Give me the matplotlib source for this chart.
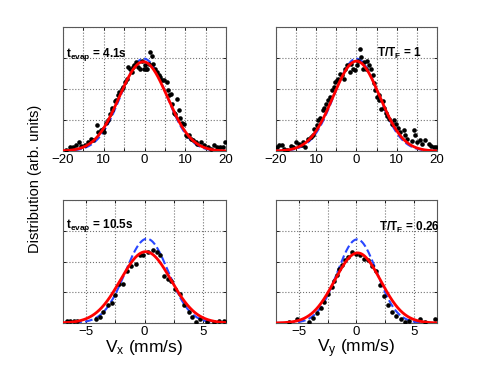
import numpy as np
import matplotlib.pyplot as plt

plt.rcParams['font.family'] = ['Liberation Sans', 'DejaVu Sans']
plt.rcParams['mathtext.fontset'] = 'custom'
plt.rcParams['mathtext.rm'] = 'Liberation Sans'
plt.rcParams['mathtext.bf'] = 'Liberation Sans:bold'
plt.rcParams['mathtext.it'] = 'Liberation Sans:italic'

# measured points (velocity in mm/s, normalised distribution)
vx1 = [-19.3, -18.4, -17.6, -16.8, -16.1, -15.5, -14.7, -13.9, -13.1, -12.6, -11.7, -11.4, -10.8, -10.3,
       -10.0, -9.5, -8.9, -8.5, -8.1, -7.9, -7.3, -6.9, -6.4, -6.2, -5.6, -5.2, -4.8, -4.4, -4.0, -3.6,
       -3.1, -2.9, -2.6, -2.1, -1.5, -1.1, -0.7, -0.2, 0.2, 0.4, 0.7, 1.0, 1.4, 1.8, 2.2, 2.6, 3.1, 3.5,
       3.9, 4.3, 4.7, 5.4, 5.7, 6.0, 6.4, 6.8, 7.2, 7.6, 8.0, 8.4, 8.8, 9.3, 9.7, 10.1, 10.5, 10.9, 11.5,
       12.0, 12.6, 13.0, 13.8, 14.6, 15.5, 16.3, 17.1, 17.8, 18.6, 19.2, 19.8]
nx1 = [0.005, 0.03, 0.03, 0.05, 0.07, 0.04, 0.05, 0.07, 0.10, 0.09, 0.21, 0.15, 0.17, 0.18,
       0.15, 0.23, 0.25, 0.30, 0.33, 0.35, 0.40, 0.41, 0.45, 0.48, 0.50, 0.52, 0.56, 0.58, 0.68, 0.66,
       0.64, 0.68, 0.69, 0.72, 0.68, 0.66, 0.73, 0.66, 0.69, 0.66, 0.66, 0.70, 0.80, 0.77, 0.70, 0.66, 0.64, 0.61,
       0.60, 0.57, 0.57, 0.56, 0.49, 0.45, 0.46, 0.38, 0.31, 0.30, 0.42, 0.33, 0.27, 0.23, 0.22, 0.13, 0.12, 0.13, 0.10,
       0.09, 0.07, 0.06, 0.07, 0.05, 0.03, 0.02, 0.05, 0.03, 0.03, 0.03, 0.07]

vy1 = [-19.8, -19.2, -18.6, -18.0, -17.3, -16.3, -15.7, -14.9, -14.2, -13.6, -13.2, -12.8, -12.0, -11.4,
       -10.9, -10.5, -9.9, -9.5, -9.0, -8.4, -8.0, -7.6, -7.0, -6.6, -6.1, -5.7, -5.3, -4.9, -4.5, -4.1,
       -3.7, -3.2, -2.8, -2.4, -1.7, -1.4, -0.9, -0.3, 0.1, 0.5, 0.9, 1.2, 1.6, 1.9, 2.4, 2.7, 3.2, 3.6,
       4.1, 4.4, 4.6, 5.1, 5.5, 5.7, 6.1, 6.6, 6.9, 7.4, 7.7, 8.0, 8.8, 9.2, 9.9, 10.2, 10.9, 11.7, 12.1,
       12.5, 13.8, 14.2, 14.6, 15.0, 15.7, 16.3, 17.1, 17.9, 18.5, 19.2, 19.8]
ny1 = [0.03, 0.05, 0.05, 0.02, 0.01, 0.04, 0.03, 0.07, 0.06, 0.05, 0.07, 0.03, 0.10, 0.11,
       0.13, 0.18, 0.21, 0.25, 0.27, 0.33, 0.35, 0.38, 0.41, 0.44, 0.49, 0.52, 0.56, 0.57, 0.58, 0.62,
       0.61, 0.58, 0.66, 0.69, 0.64, 0.70, 0.66, 0.65, 0.69, 0.73, 0.82, 0.76, 0.66, 0.72, 0.66, 0.73, 0.69, 0.66,
       0.61, 0.55, 0.49, 0.44, 0.45, 0.41, 0.34, 0.40, 0.35, 0.31, 0.28, 0.26, 0.22, 0.25, 0.22, 0.19, 0.15, 0.17, 0.13,
       0.10, 0.08, 0.17, 0.13, 0.07, 0.09, 0.06, 0.09, 0.06, 0.04, 0.03, 0.03]

vx2 = [-6.7, -6.4, -6.1, -5.8, -4.17, -3.82, -3.53, -3.1, -2.82, -2.53, -2.16, -1.81, -1.52, -1.15,
       -0.72, -0.37, -0.09, 0.34, 0.72, 1.06, 1.35, 1.70, 1.98, 2.27, 2.64, 3.02, 3.42, 3.79, 4.08,
       4.45, 4.8, 5.37, 5.95, 6.38, 6.81]
nx2 = [0.015, 0.015, 0.015, 0.015, 0.03, 0.05, 0.09, 0.15, 0.16, 0.23, 0.32, 0.32, 0.42, 0.46,
       0.48, 0.55, 0.55, 0.58, 0.59, 0.58, 0.55, 0.38, 0.36, 0.34, 0.28, 0.24, 0.15, 0.09, 0.05,
       0.01, 0.03, 0.01, 0.01, 0.02, 0.02]

vy2 = [-5.88, -5.19, -4.09, -3.8, -3.46, -3.08, -2.8, -2.51, -2.13, -1.93, -1.70, -1.50, -1.27, -0.98,
       -0.78, -0.40, -0.06, 0.32, 0.66, 1.04, 1.38, 1.67, 2.02, 2.39, 2.77, 3.11, 3.46, 3.83, 4.21,
       4.55, 5.56, 5.94, 6.86]
ny2 = [0.01, 0.03, 0.01, 0.04, 0.08, 0.12, 0.17, 0.24, 0.29, 0.34, 0.39, 0.44, 0.47, 0.51,
       0.54, 0.58, 0.56, 0.55, 0.52, 0.51, 0.46, 0.42, 0.31, 0.22, 0.15, 0.09, 0.06, 0.03, 0.01,
       0.02, 0.03, 0.01, 0.03]

# fit parameters: amplitude, centre, width
gauss_fit = {'x1': (0.72, -0.3, 5.9), 'y1': (0.725, 0.0, 5.8), 'x2': (0.58, 0.1, 2.16), 'y2': (0.57, 0.1, 2.0)}
fd_fit = {'x1': (0.745, -0.2, 5.6), 'y1': (0.745, 0.0, 5.55), 'x2': (0.685, 0.2, 1.85), 'y2': (0.68, 0.05, 1.72)}

labels = {'x1': r'$\mathbf{t_{evap}}$ = 4.1s', 'y1': r'$\mathbf{T/T_F}$ = 1',
          'x2': r'$\mathbf{t_{evap}}$ = 10.5s', 'y2': r'$\mathbf{T/T_F}$ = 0.26'}
label_pos = {'x1': (0.02, 0.76), 'y1': (0.63, 0.76), 'x2': (0.02, 0.77), 'y2': (0.64, 0.75)}

top_ticks = [-20, -15, -10, -5, 0, 5, 10, 15, 20]
top_tick_labels = ['\u221220', '', '10', '', '0', '', '10', '', '20']
bottom_ticks = [-5, -2.5, 0, 2.5, 5]
bottom_tick_labels = ['\u22125', '', '0', '', '5']


def model(v, p):
    a, c, s = p
    return a * np.exp(-(v - c) ** 2 / (2 * s ** 2))


fig = plt.figure(figsize=(4.85, 3.65), dpi=100)
boxes = {'x1': [0.130, 0.586, 0.336, 0.340], 'y1': [0.569, 0.586, 0.332, 0.340],
         'x2': [0.130, 0.115, 0.336, 0.337], 'y2': [0.569, 0.115, 0.332, 0.337]}
pts = {'x1': (vx1, nx1), 'y1': (vy1, ny1), 'x2': (vx2, nx2), 'y2': (vy2, ny2)}

for key in ['x1', 'y1', 'x2', 'y2']:
    ax = fig.add_axes(boxes[key])
    top = key.endswith('1')
    lim = 20 if top else 7
    v = np.linspace(-lim, lim, 400)
    ax.plot(pts[key][0], pts[key][1], 'o', color='black', ms=3.3, mew=0, zorder=3)
    ax.plot(v, model(v, fd_fit[key]), '--', color='#2846ff', lw=1.5, zorder=2)
    ax.plot(v, model(v, gauss_fit[key]), '-', color='#ff0000', lw=2, zorder=4)
    ax.set_xlim(-lim, lim)
    ax.set_ylim(0, 1)
    if top:
        ax.set_xticks(top_ticks)
        ax.set_xticklabels(top_tick_labels, fontsize=9.5)
    else:
        ax.set_xticks(bottom_ticks)
        ax.set_xticklabels(bottom_tick_labels, fontsize=9.5)
    ax.set_yticks([0, 0.25, 0.5, 0.75, 1])
    ax.set_yticklabels([])
    ax.tick_params(direction='in', length=2.5, top=True, right=True, width=0.6, pad=2)
    ax.grid(True, linestyle=':', color='0.45', lw=0.8)
    for sp in ax.spines.values():
        sp.set_linewidth(0.8)
        sp.set_color('0.35')
    ax.text(label_pos[key][0], label_pos[key][1], labels[key], transform=ax.transAxes,
            fontsize=8.5, fontweight='bold')
    if key == 'x2':
        ax.set_xlabel(r'V$_\mathregular{x}$ (mm/s)', fontsize=12.5, labelpad=0)
    if key == 'y2':
        ax.set_xlabel(r'V$_\mathregular{y}$ (mm/s)', fontsize=12.5, labelpad=0)

fig.text(0.073, 0.51, 'Distribution (arb. units)', rotation=90, ha='center', va='center', fontsize=10.5)

fig.savefig('out.png', dpi=100)
